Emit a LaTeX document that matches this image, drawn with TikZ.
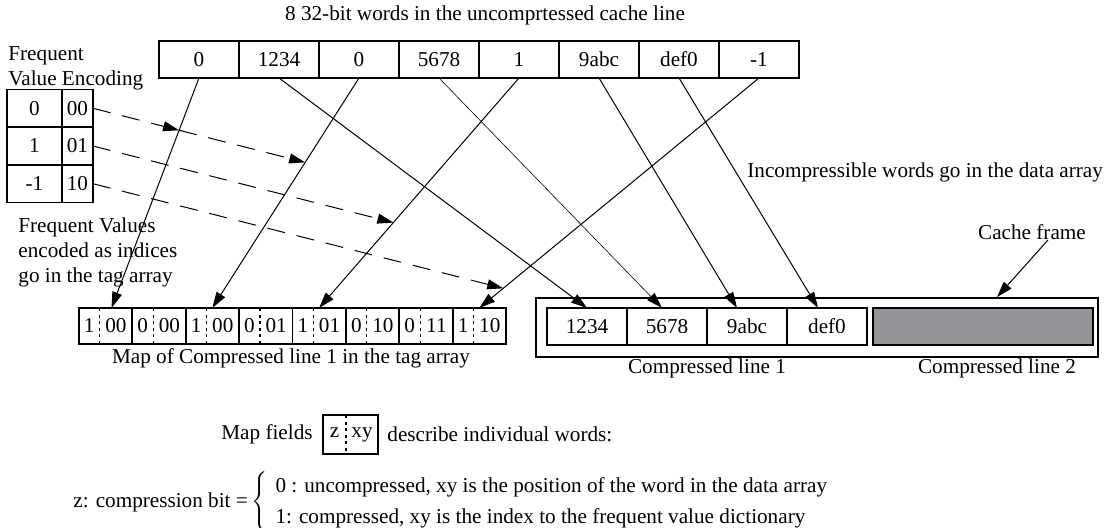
\documentclass[tikz,border=0pt]{standalone}
\usepackage{fontspec}
\setmainfont{Liberation Serif}
\usetikzlibrary{arrows.meta,calc,positioning}
\definecolor{FrameGray}{RGB}{147,149,152}
\tikzset{
  wordbox/.style={
    draw,
    line width=0.9pt,
    minimum width=40pt,
    minimum height=18.5pt,
    inner sep=0pt,
    outer sep=0pt
  },
  tagbox/.style={wordbox,minimum width=26.7pt,minimum height=18pt},
  fvbox/.style={wordbox,minimum height=18.85pt},
  divider/.style={line width=0.6pt,dash pattern=on 1.5pt off 1.8pt},
  arrow/.style={-{Triangle[length=8pt,width=5pt]},line width=0.5pt},
  dasharrow/.style={arrow,dash pattern=on 9pt off 6pt},
  caption/.style={inner sep=0pt}
}
\newcommand{\tagfield}[2]{\makebox[10.5pt]{#1}\makebox[16.2pt]{#2}}

\begin{document}
\begin{tikzpicture}[x=0.5pt,y=-0.5pt,font=\fontsize{10.6}{12.7}\selectfont]
\useasboundingbox (0,0) rectangle (1105,528);

% uncompressed cache line
\node[caption] (title) at (485,15) {8 32-bit words in the uncomprtessed cache line};
\node[wordbox] (w1) at (199,59.5) {0};
\node[wordbox,right=0pt of w1] (w2) {1234};
\node[wordbox,right=0pt of w2] (w3) {0};
\node[wordbox,right=0pt of w3] (w4) {5678};
\node[wordbox,right=0pt of w4] (w5) {1};
\node[wordbox,right=0pt of w5] (w6) {9abc};
\node[wordbox,right=0pt of w6] (w7) {def0};
\node[wordbox,right=0pt of w7] (w8) {-1};

% frequent value table
\node[caption,align=left,anchor=west] (fvtitle) at (8,68.5) {Frequent\\Value Encoding};
\node[fvbox,minimum width=27.5pt] (f0) at (34.5,108.3) {0};
\node[fvbox,minimum width=27.5pt,below=0pt of f0] (f1) {1};
\node[fvbox,minimum width=27.5pt,below=0pt of f1] (fm) {-1};
\node[fvbox,minimum width=15.5pt,right=0pt of f0] (e0) {00};
\node[fvbox,minimum width=15.5pt,right=0pt of f1] (e1) {01};
\node[fvbox,minimum width=15.5pt,right=0pt of fm] (e10) {10};
\node[caption,align=left,anchor=west] (fvnote) at (18,252.5)
  {Frequent Values\\encoded as indices\\go in the tag array};

% tag array
\node[tagbox] (t1) at (105.5,326) {\tagfield{1}{00}};
\node[tagbox,right=0pt of t1] (t2) {\tagfield{0}{00}};
\node[tagbox,right=0pt of t2] (t3) {\tagfield{1}{00}};
\node[tagbox,right=0pt of t3] (t4) {\tagfield{0}{01}};
\node[tagbox,right=0pt of t4] (t5) {\tagfield{1}{01}};
\node[tagbox,right=0pt of t5] (t6) {\tagfield{0}{10}};
\node[tagbox,right=0pt of t6] (t7) {\tagfield{0}{11}};
\node[tagbox,right=0pt of t7] (t8) {\tagfield{1}{10}};
\node[caption] (maplabel) at (291,358) {Map of Compressed line 1 in the tag array};
\foreach \i in {1,...,8}
  \draw[divider] ([xshift=10.5pt]t\i.north west) -- ([xshift=10.5pt]t\i.south west);

% cache frame
\node[draw,line width=0.9pt,minimum width=281pt,minimum height=29.5pt,inner sep=0pt] (frame) at (817,327.5) {};
\node[wordbox] (c1) at (587,326.5) {1234};
\node[wordbox,right=0pt of c1] (c2) {5678};
\node[wordbox,right=0pt of c2] (c3) {9abc};
\node[wordbox,right=0pt of c3] (c4) {def0};
\node[wordbox,fill=FrameGray,minimum width=110pt,right=3pt of c4] (c5) {};
\node[caption] (cl1) at (707,368) {Compressed line 1};
\node[caption] (cl2) at (997,368) {Compressed line 2};
\node[caption] (cfl) at (1032,232) {Cache frame};
\node[caption,anchor=west] (incomp) at (747,172) {Incompressible words go in the data array};

% legend
\node[wordbox,minimum width=27.5pt,minimum height=19.5pt] (zbox) at (350.5,434.5)
  {\makebox[11.5pt]{z}\makebox[16pt]{xy}};
\draw[divider] ([xshift=11.5pt]zbox.north west) -- ([xshift=11.5pt]zbox.south west);
\node[caption,left=5pt of zbox] (mapf) {Map fields};
\node[caption,right=4.5pt of zbox] (mapd) {describe individual words:};
\node[caption,anchor=west] (zdef) at (73,502)
  {z: compression bit =\,$\left\{\hspace{4pt}\renewcommand{\arraystretch}{1.22}\begin{tabular}{@{}l@{}}
   0 : uncompressed, xy is the position of the word in the data array\\
   1: compressed, xy is the index to the frequent value dictionary\end{tabular}\right.$};

% words to tag array and data array
\coordinate (t1in) at ([xshift=3pt]t1.north);
\draw[arrow] (w1.south) -- (t1in);
\draw[arrow] (w2.south) -- (c1.north);
\draw[arrow] (w3.south) -- (t3.north);
\draw[arrow,line width=0.3pt] (w4.south) -- ([xshift=-2.5pt]c2.north);
\draw[arrow] (w5.south) -- (t5.north);
\draw[arrow] (w6.south) -- ([xshift=-5pt]c3.north);
\draw[arrow] (w7.south) -- ([xshift=-4.5pt]c4.north);
\draw[arrow] (w8.south) -- (t8.north);
\draw[arrow] ([xshift=8pt]cfl.south) -- ([xshift=90pt]frame.north);

% encodings to the words they replace
\coordinate (d0) at ($(e0.east)+(100,25.5)$);
\coordinate (d1) at ($(e1.east)+(100,25.5)$);
\coordinate (d10) at ($(e10.east)+(100,25.5)$);
\coordinate (x1) at (intersection of e0.east--d0 and w1.south--t1in);
\coordinate (x3) at (intersection of e0.east--d0 and w3.south--t3.north);
\coordinate (x5) at (intersection of e1.east--d1 and w5.south--t5.north);
\coordinate (x8) at (intersection of e10.east--d10 and w8.south--t8.north);
\draw[dasharrow] (e0.east) -- (x1);
\draw[dasharrow] (x1) -- (x3);
\draw[dasharrow] (e1.east) -- (x5);
\draw[dasharrow] (e10.east) -- (x8);

\end{tikzpicture}
\end{document}
